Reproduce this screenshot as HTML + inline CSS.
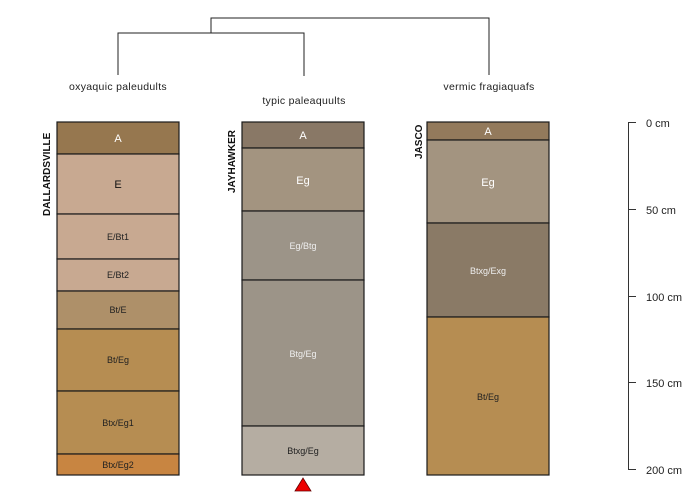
<!DOCTYPE html>
<html><head><meta charset="utf-8"><style>html,body{margin:0;padding:0;background:#fff}svg{display:block}text{font-family:"Liberation Sans",sans-serif}</style></head>
<body>
<svg width="700" height="500" viewBox="0 0 700 500" xmlns="http://www.w3.org/2000/svg">
<g stroke="#222" stroke-width="1" fill="none">
<polyline points="211,33 211,18 489,18 489,75"/>
<polyline points="118,75 118,33 304,33 304,76"/>
</g>
<g font-size="10.5" fill="#222" text-anchor="middle" letter-spacing="0.3">
<text x="118" y="90">oxyaquic paleudults</text>
<text x="304" y="104">typic paleaquults</text>
<text x="489" y="90">vermic fragiaquafs</text>
</g>
<g stroke="#1a1a1a" stroke-width="1.2">
<rect x="57" y="122" width="122" height="32" fill="#96774f"/>
<rect x="57" y="154" width="122" height="60" fill="#c8a991"/>
<rect x="57" y="214" width="122" height="45" fill="#c8a991"/>
<rect x="57" y="259" width="122" height="32" fill="#c8a991"/>
<rect x="57" y="291" width="122" height="38" fill="#ae9069"/>
<rect x="57" y="329" width="122" height="62" fill="#b68d52"/>
<rect x="57" y="391" width="122" height="63" fill="#b68d52"/>
<rect x="57" y="454" width="122" height="21" fill="#c88541"/>
<rect x="242" y="122" width="122" height="26" fill="#897866"/>
<rect x="242" y="148" width="122" height="63" fill="#a39480"/>
<rect x="242" y="211" width="122" height="69" fill="#9c9488"/>
<rect x="242" y="280" width="122" height="146" fill="#9c9488"/>
<rect x="242" y="426" width="122" height="49" fill="#b5ada2"/>
<rect x="427" y="122" width="122" height="18" fill="#937a5c"/>
<rect x="427" y="140" width="122" height="83" fill="#a39480"/>
<rect x="427" y="223" width="122" height="94" fill="#8a7a66"/>
<rect x="427" y="317" width="122" height="158" fill="#b68d52"/>
</g>
<g text-anchor="middle" font-size="9">
<text x="118" y="142" font-size="11" fill="#fff">A</text>
<text x="118" y="188" font-size="11" fill="#111">E</text>
<text x="118" y="240" fill="#222">E/Bt1</text>
<text x="118" y="278" fill="#222">E/Bt2</text>
<text x="118" y="313" fill="#222">Bt/E</text>
<text x="118" y="363" fill="#222">Bt/Eg</text>
<text x="118" y="426" fill="#222">Btx/Eg1</text>
<text x="118" y="468" fill="#222">Btx/Eg2</text>
<text x="303" y="139" font-size="11" fill="#fff">A</text>
<text x="303" y="184" font-size="11" fill="#fff">Eg</text>
<text x="303" y="249" fill="#eee">Eg/Btg</text>
<text x="303" y="357" fill="#eee">Btg/Eg</text>
<text x="303" y="454" fill="#222">Btxg/Eg</text>
<text x="488" y="135" font-size="11" fill="#fff">A</text>
<text x="488" y="186" font-size="11" fill="#fff">Eg</text>
<text x="488" y="274" fill="#eee">Btxg/Exg</text>
<text x="488" y="400" fill="#222">Bt/Eg</text>
</g>
<g font-size="10" font-weight="bold" fill="#111">
<text transform="translate(50,216) rotate(-90)">DALLARDSVILLE</text>
<text transform="translate(235,193) rotate(-90)">JAYHAWKER</text>
<text transform="translate(422,159) rotate(-90)">JASCO</text>
</g>
<polygon points="295,491 303,478 311,491" fill="#ee0000" stroke="#600" stroke-width="0.8"/>
<g stroke="#333" stroke-width="1">
<line x1="628.5" y1="122" x2="628.5" y2="469"/>
<line x1="628" y1="122.5" x2="636" y2="122.5"/>
<line x1="628" y1="209.5" x2="636" y2="209.5"/>
<line x1="628" y1="296.5" x2="636" y2="296.5"/>
<line x1="628" y1="382.5" x2="636" y2="382.5"/>
<line x1="628" y1="469.5" x2="636" y2="469.5"/>
</g>
<g font-size="11" fill="#222">
<text x="646" y="127">0 cm</text>
<text x="646" y="214">50 cm</text>
<text x="646" y="301">100 cm</text>
<text x="646" y="387">150 cm</text>
<text x="646" y="474">200 cm</text>
</g>
</svg>
</body></html>
